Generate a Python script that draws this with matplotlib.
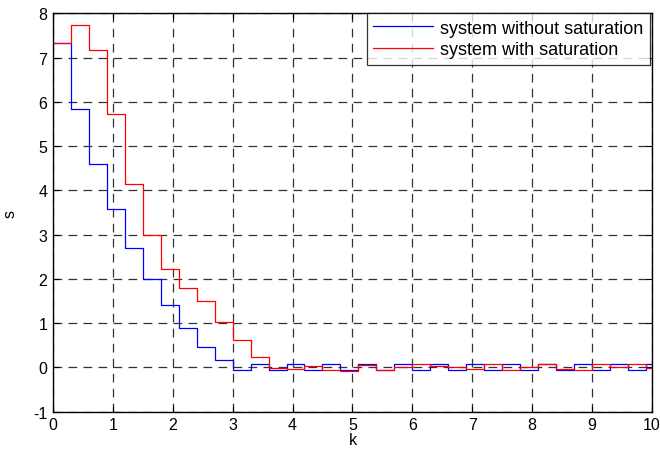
import numpy as np
import matplotlib
matplotlib.use("Agg")
import matplotlib.pyplot as plt

plt.rcParams['font.family'] = ['Liberation Sans', 'DejaVu Sans']
plt.rcParams['axes.unicode_minus'] = False

dt = 0.3
k_steps = [round(i * dt, 1) for i in range(34)] + [10.0]

s_without = [7.33, 5.84, 4.59, 3.57, 2.71, 2.00, 1.40, 0.90, 0.47, 0.16,
             -0.05, 0.08, -0.05, 0.08, -0.05, 0.08, -0.05, 0.08, -0.05, 0.08,
             -0.05, 0.08, -0.05, 0.08, -0.05, 0.08, -0.05, 0.08, -0.05, 0.08,
             -0.05, 0.08, -0.05, 0.08]
s_with = [7.33, 7.75, 7.18, 5.73, 4.15, 3.00, 2.23, 1.80, 1.50, 1.03,
          0.61, 0.24, -0.02, -0.03, 0.03, -0.05, -0.08, 0.06, -0.05, 0.02,
          0.08, 0.03, 0.01, -0.04, 0.08, -0.05, 0.02, 0.08, -0.04, -0.05,
          0.08, 0.02, 0.08, -0.02]

fig = plt.figure(figsize=(6.6, 4.52), dpi=100)
ax = fig.add_axes([0.080, 0.087, 0.908, 0.881])

ax.plot(k_steps, s_without + [s_without[-1]], drawstyle='steps-post',
        color='#0000ff', lw=0.9, label='system without saturation')
ax.plot(k_steps, s_with + [s_with[-1]], drawstyle='steps-post',
        color='#ff0000', lw=0.9, label='system with saturation')

ax.set_xlim(0, 10)
ax.set_ylim(-1, 8)
ax.set_xticks(range(0, 11))
ax.set_yticks(range(-1, 9))
ax.grid(True, color='black', linestyle=(0, (7, 5)), linewidth=0.9, alpha=0.8)
ax.tick_params(direction='in', top=True, right=True, labelsize=11.5, length=4,
               pad=4)
ax.set_xlabel('k', fontsize=11.5, labelpad=0)
ax.set_ylabel('s', fontsize=11.5)
ax.yaxis.set_label_coords(-0.058, 0.5)
for sp in ax.spines.values():
    sp.set_linewidth(1.0)

leg = ax.legend(loc='upper right', fontsize=13, frameon=True, fancybox=False,
                edgecolor='black', borderaxespad=0.0,
                bbox_to_anchor=(0.996, 1.0), handlelength=3.3,
                handletextpad=0.4, borderpad=0.35, labelspacing=0.25)
leg.get_frame().set_linewidth(0.9)

fig.savefig('out.png', dpi=100)
